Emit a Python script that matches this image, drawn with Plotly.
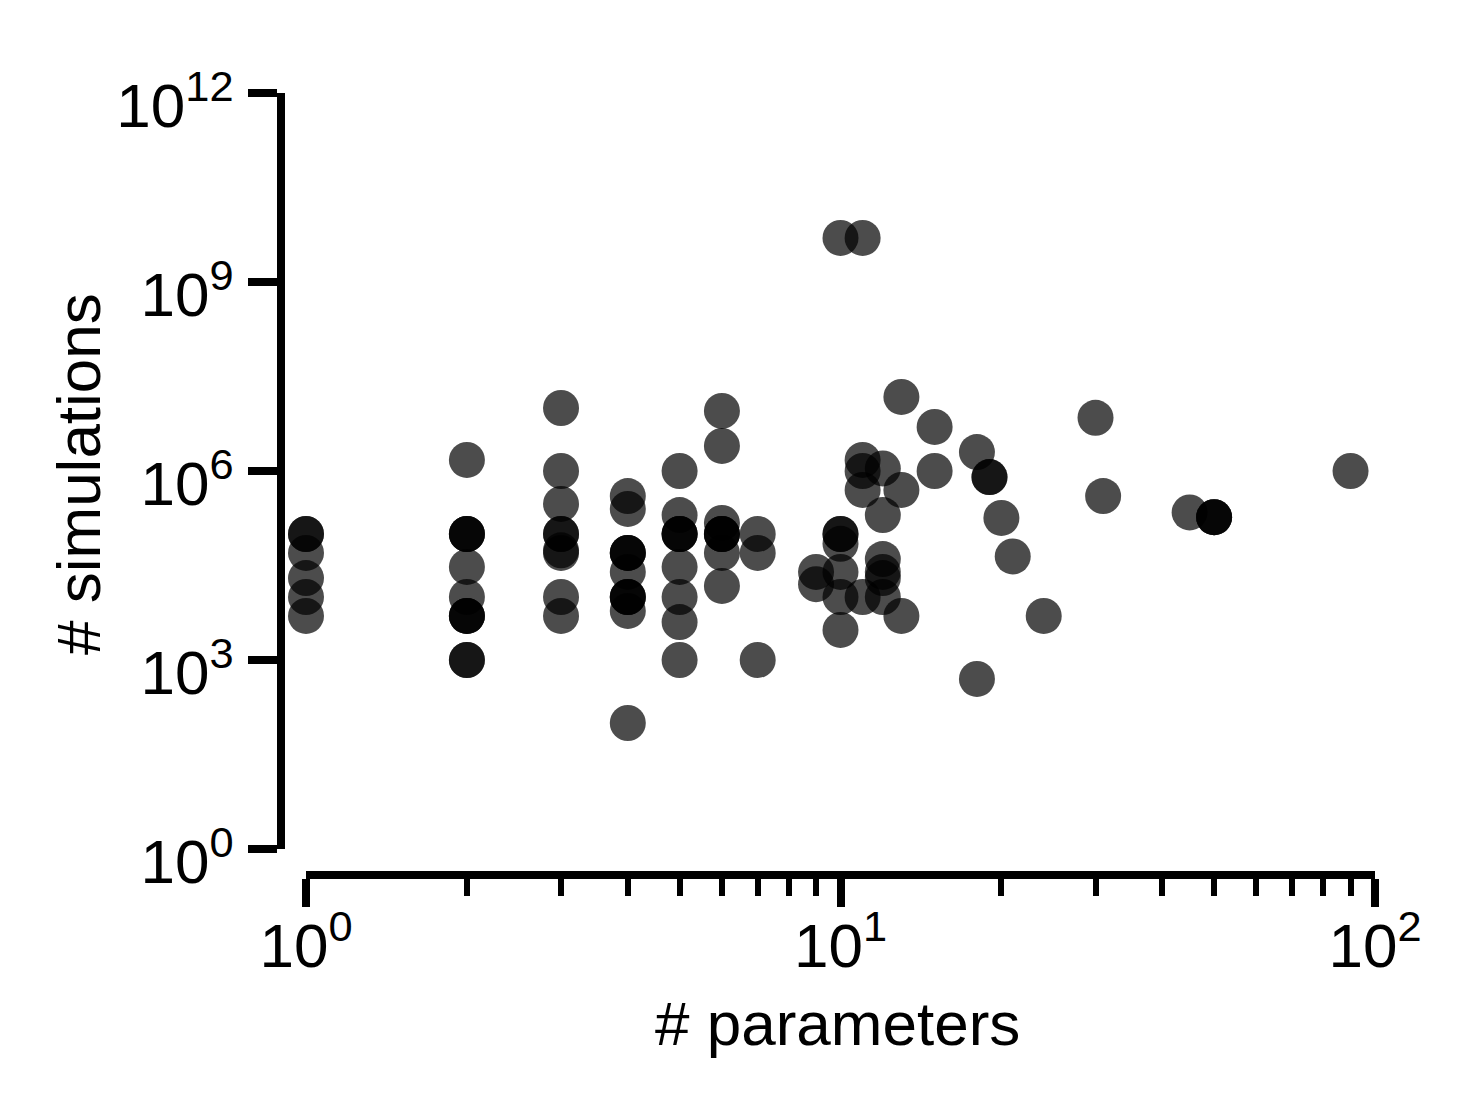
import plotly.graph_objects as go

# ---- data ----
n_parameters = (
    [1] * 6 +
    [2] * 11 +
    [3] * 9 +
    [4] * 11 +
    [5] * 9 +
    [6] * 8 +
    [7] * 3 +
    [9] * 2 +
    [10] * 7 +
    [11] * 5 +
    [12] * 6 +
    [13] * 3 +
    [15] * 2 +
    [18] * 2 +
    [19] * 2 +
    [20, 21, 24, 30, 31, 45] +
    [50] * 3 +
    [90]
)
n_simulations = (
    [1e5, 1e5, 5e4, 2e4, 1e4, 5e3] +
    [1.5e6, 1e5, 1e5, 1e5, 3e4, 1e4, 5e3, 5e3, 5e3, 1e3, 1e3] +
    [1e7, 1e6, 3e5, 1e5, 1e5, 5e4, 5.5e4, 1e4, 5e3] +
    [4e5, 2.5e5, 5e4, 5e4, 5e4, 2.5e4, 1e4, 1e4, 1e4, 6e3, 100] +
    [1e6, 2e5, 1e5, 1e5, 1e5, 3e4, 1e4, 4e3, 1e3] +
    [9e6, 2.5e6, 1.5e5, 1e5, 1e5, 1e5, 5e4, 1.5e4] +
    [1e5, 5e4, 1e3] +
    [2.5e4, 1.6e4] +
    [5e9, 1e5, 1e5, 7e4, 2.5e4, 1e4, 3e3] +
    [5e9, 1.5e6, 1e6, 5e5, 1e4] +
    [1.1e6, 2e5, 4e4, 2.5e4, 2e4, 1e4] +
    [1.5e7, 5e5, 5e3] +
    [5e6, 1e6] +
    [2e6, 500] +
    [8e5, 8e5] +
    [1.8e5, 4.4e4, 5e3, 7e6, 4e5, 2.2e5] +
    [1.85e5, 1.85e5, 1.85e5] +
    [1e6]
)

x_tick_vals = [1, 10, 100]
x_tick_text = ["10<sup>0</sup>", "10<sup>1</sup>", "10<sup>2</sup>"]
x_minor_vals = [2, 3, 4, 5, 6, 7, 8, 9, 20, 30, 40, 50, 60, 70, 80, 90]
y_tick_vals = [1, 1e3, 1e6, 1e9, 1e12]
y_tick_text = ["10<sup>0</sup>", "10<sup>3</sup>", "10<sup>6</sup>",
               "10<sup>9</sup>", "10<sup>12</sup>"]

x_title = "# parameters"
y_title = "# simulations"

# ---- figure ----
W, H = 1482, 1117
OFF = 8  # page body margin in the browser
FONT = "Liberation Sans, Arial, Helvetica, sans-serif"


def px(x):
    return (x - OFF) / W


def py(y):
    return 1 - (y - OFF) / H


fig = go.Figure()
fig.add_trace(go.Scatter(
    x=n_parameters, y=n_simulations, mode="markers",
    marker=dict(size=36, color="black", opacity=0.7, line=dict(width=0)),
    cliponaxis=False, showlegend=False, hoverinfo="x+y",
))

fig.update_layout(
    width=W, height=H,
    margin=dict(l=0, r=0, t=0, b=0),
    paper_bgcolor="white", plot_bgcolor="white",
    font=dict(family=FONT, color="black"),
    xaxis=dict(
        type="log", range=[0, 2], automargin=False,
        domain=[px(306), px(1375)],
        anchor="free", position=py(875),
        showline=True, linecolor="black", linewidth=8,
        ticks="outside", ticklen=28, tickwidth=8, tickcolor="black",
        tickmode="array", tickvals=x_tick_vals, ticktext=x_tick_text,
        tickfont=dict(size=62, family=FONT, color="black"),
        ticklabelstandoff=-14,
        minor=dict(ticks="outside", ticklen=17, tickwidth=6,
                   tickcolor="black", tickmode="array", tickvals=x_minor_vals,
                   showgrid=False),
        showgrid=False, zeroline=False,
    ),
    yaxis=dict(
        type="log", range=[0, 12], automargin=False,
        domain=[py(849), py(93)],
        anchor="free", position=px(281),
        showline=True, linecolor="black", linewidth=8,
        ticks="outside", ticklen=29, tickwidth=8, tickcolor="black",
        tickmode="array", tickvals=y_tick_vals, ticktext=y_tick_text,
        tickfont=dict(size=62, family=FONT, color="black"),
        ticklabelstandoff=2, ticklabelshift=12,
        showgrid=False, zeroline=False,
    ),
    annotations=[
        dict(text=x_title, xref="paper", yref="paper",
             x=px(838), y=py(1023), xanchor="center", yanchor="middle",
             showarrow=False, font=dict(size=62, family=FONT, color="black")),
        dict(text=y_title, xref="paper", yref="paper",
             x=px(79), y=py(474), xanchor="center", yanchor="middle",
             textangle=-90, showarrow=False,
             font=dict(size=62, family=FONT, color="black")),
    ],
)

fig.write_html("out.html")
